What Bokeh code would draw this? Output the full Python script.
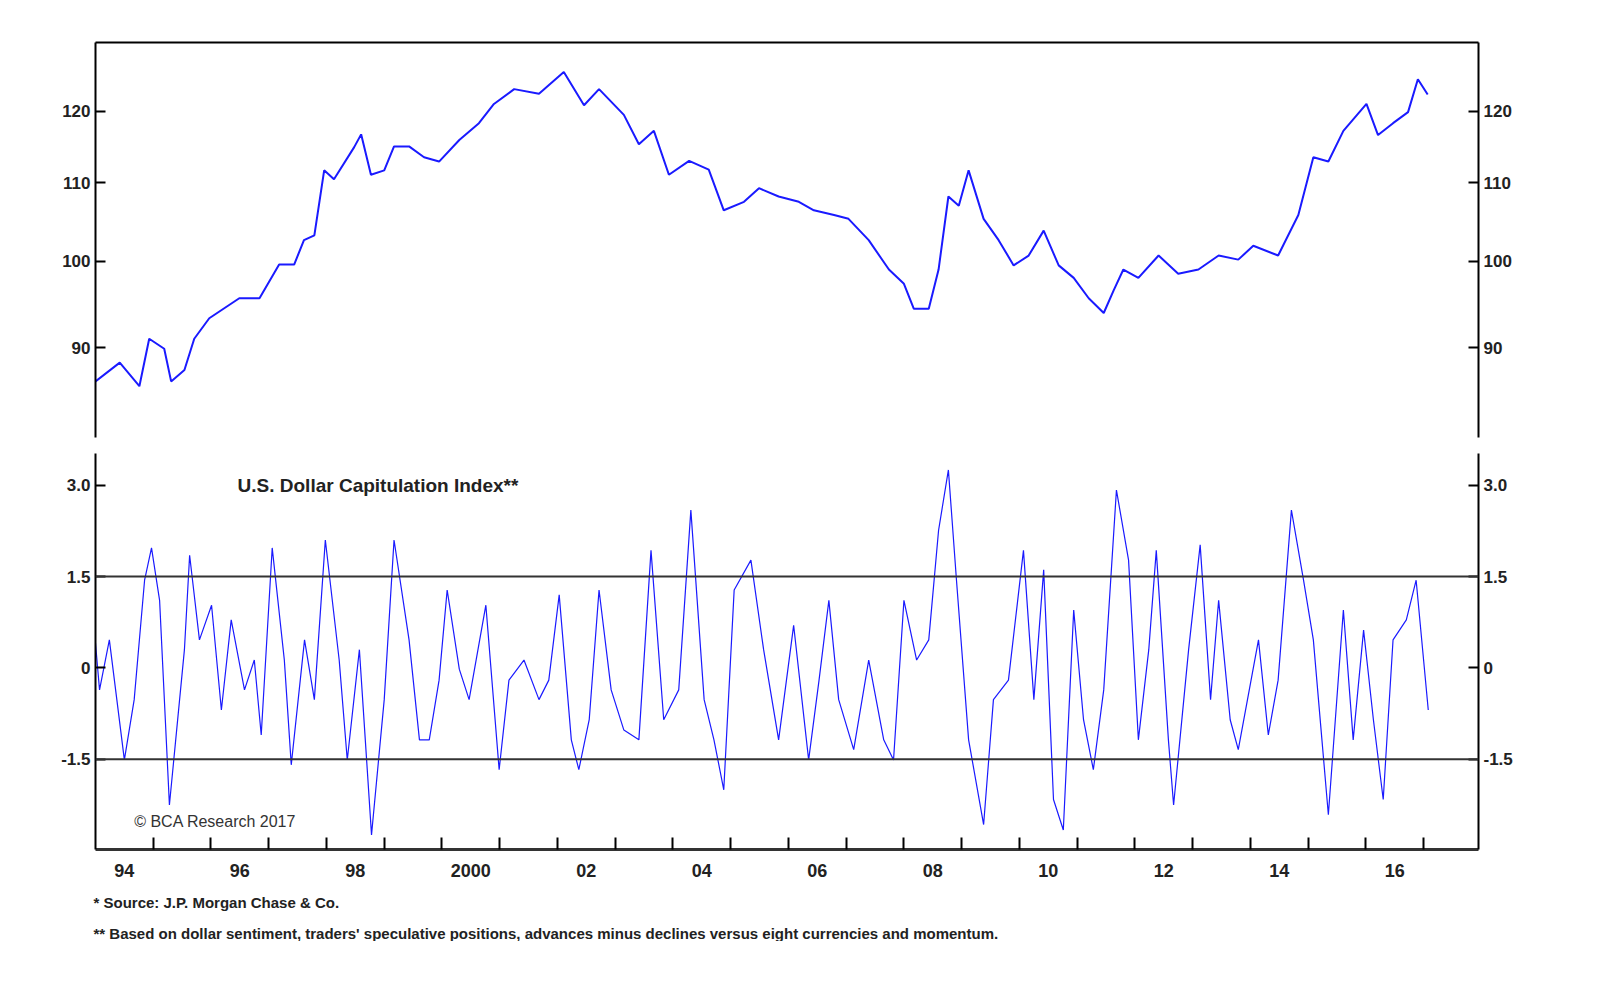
from bokeh.plotting import figure
from bokeh.models import (Range1d, LinearAxis, LogAxis, FixedTicker, Span, Label, Title)
from bokeh.layouts import column
from bokeh.embed import file_html
from bokeh.resources import INLINE

# Trade-weighted US dollar (top panel)
dollar_years = [1994.0, 1994.42, 1994.76, 1994.93, 1995.19, 1995.31, 1995.54, 1995.71, 1995.97,
                1996.49, 1996.84, 1997.18, 1997.44, 1997.61, 1997.79, 1997.96, 1998.13, 1998.48,
                1998.60, 1998.77, 1999.0, 1999.17, 1999.43, 1999.69, 1999.95, 2000.30, 2000.64,
                2000.90, 2001.25, 2001.68, 2002.11, 2002.46, 2002.72, 2003.15, 2003.41, 2003.67,
                2003.93, 2004.28, 2004.62, 2004.88, 2005.23, 2005.49, 2005.83, 2006.18, 2006.44,
                2006.79, 2007.04, 2007.39, 2007.74, 2008.0, 2008.17, 2008.43, 2008.60, 2008.77,
                2008.95, 2009.12, 2009.38, 2009.64, 2009.90, 2010.16, 2010.42, 2010.68, 2010.94,
                2011.20, 2011.46, 2011.63, 2011.80, 2012.06, 2012.41, 2012.75, 2013.10, 2013.45,
                2013.79, 2014.05, 2014.48, 2014.83, 2015.09, 2015.35, 2015.61, 2016.01, 2016.21,
                2016.47, 2016.73, 2016.90, 2017.07]
dollar_values = [86.4, 88.4, 85.9, 91.0, 89.9, 86.4, 87.6, 91.0, 93.3,
                 95.6, 95.6, 99.6, 99.6, 102.6, 103.2, 111.7, 110.5, 114.9,
                 116.7, 111.1, 111.7, 115.0, 115.0, 113.5, 112.9, 115.9, 118.3,
                 121.1, 123.3, 122.6, 125.9, 120.9, 123.3, 119.5, 115.3, 117.2,
                 111.1, 113.0, 111.8, 106.4, 107.5, 109.3, 108.2, 107.5, 106.4,
                 105.8, 105.3, 102.6, 99.0, 97.3, 94.4, 94.4, 99.0, 108.2,
                 107.0, 111.7, 105.3, 102.6, 99.5, 100.7, 103.8, 99.5, 98.0,
                 95.6, 93.9, 96.5, 99.0, 98.0, 100.7, 98.5, 99.0, 100.7,
                 100.2, 101.9, 100.7, 105.8, 113.5, 112.9, 117.2, 121.1, 116.6,
                 118.3, 119.9, 124.8, 122.5]

# U.S. Dollar Capitulation Index (bottom panel)
cap_years = [1993.98, 1994.07, 1994.24, 1994.50, 1994.67, 1994.85, 1994.97, 1995.11, 1995.28,
             1995.54, 1995.63, 1995.80, 1996.01, 1996.18, 1996.35, 1996.58, 1996.75, 1996.87,
             1997.06, 1997.27, 1997.39, 1997.62, 1997.79, 1997.98, 1998.22, 1998.36, 1998.57,
             1998.78, 1999.0, 1999.17, 1999.43, 1999.61, 1999.78, 1999.95, 2000.09, 2000.30,
             2000.47, 2000.76, 2000.99, 2001.16, 2001.42, 2001.68, 2001.85, 2002.03, 2002.24,
             2002.37, 2002.55, 2002.72, 2002.93, 2003.15, 2003.41, 2003.62, 2003.84, 2004.10,
             2004.31, 2004.54, 2004.71, 2004.88, 2005.06, 2005.35, 2005.57, 2005.83, 2006.09,
             2006.35, 2006.53, 2006.70, 2006.87, 2007.13, 2007.39, 2007.65, 2007.82, 2008.0,
             2008.22, 2008.43, 2008.60, 2008.77, 2008.91, 2009.12, 2009.38, 2009.55, 2009.81,
             2010.07, 2010.25, 2010.42, 2010.59, 2010.76, 2010.94, 2011.11, 2011.28, 2011.46,
             2011.68, 2011.89, 2012.06, 2012.24, 2012.37, 2012.58, 2012.67, 2012.93, 2013.13,
             2013.31, 2013.45, 2013.65, 2013.79, 2014.14, 2014.31, 2014.48, 2014.71, 2014.92,
             2015.09, 2015.35, 2015.61, 2015.78, 2015.96, 2016.13, 2016.30, 2016.47, 2016.70,
             2016.87, 2017.08]
cap_values = [0.62, -0.36, 0.46, -1.51, -0.52, 1.44, 1.97, 1.11, -2.25,
              0.30, 1.85, 0.46, 1.03, -0.69, 0.79, -0.36, 0.13, -1.10,
              1.97, 0.13, -1.59, 0.46, -0.52, 2.10, 0.13, -1.51, 0.30,
              -2.74, -0.52, 2.10, 0.46, -1.18, -1.18, -0.20, 1.28, -0.02,
              -0.52, 1.03, -1.67, -0.20, 0.13, -0.52, -0.20, 1.20, -1.18,
              -1.67, -0.85, 1.28, -0.36, -1.02, -1.18, 1.93, -0.85, -0.36,
              2.59, -0.52, -1.18, -2.0, 1.28, 1.77, 0.30, -1.18, 0.70,
              -1.51, -0.20, 1.11, -0.52, -1.34, 0.13, -1.18, -1.51, 1.11,
              0.13, 0.46, 2.26, 3.25, 1.44, -1.18, -2.57, -0.52, -0.20,
              1.93, -0.52, 1.61, -2.16, -2.66, 0.95, -0.85, -1.67, -0.36,
              2.92, 1.77, -1.18, 0.30, 1.93, -1.18, -2.25, 0.30, 2.02,
              -0.52, 1.11, -0.85, -1.34, 0.46, -1.10, -0.20, 2.59, 1.44,
              0.46, -2.41, 0.95, -1.18, 0.62, -0.85, -2.16, 0.46, 0.79,
              1.44, -0.69]

year_labels = ["94", "96", "98", "2000", "02", "04", "06", "08", "10", "12", "14", "16"]
label_pos = [1994.5 + 2 * i for i in range(len(year_labels))]
year_ticks = list(range(1995, 2018))

FONT = "Liberation Sans"
BLUE = "#1a1aff"
x_range = Range1d(1994.0, 2017.95)


def style_y(axis, ticks):
    axis.ticker = FixedTicker(ticks=ticks, minor_ticks=[])
    axis.major_tick_in = 10
    axis.major_tick_out = 0
    axis.axis_line_width = 2
    axis.major_tick_line_width = 2
    axis.major_label_text_font = FONT
    axis.major_label_text_font_style = "bold"
    axis.major_label_text_font_size = "17px"
    axis.major_label_text_color = "#222222"


top = figure(width=1560, height=445, x_range=x_range, y_range=Range1d(80.7, 130.5),
             y_axis_type="log", y_axis_location=None, x_axis_location=None,
             output_backend="svg", toolbar_location=None,
             min_border_left=95, min_border_right=82, min_border_top=42, min_border_bottom=8)
top.outline_line_color = None
top.grid.visible = False
for side in ["left", "right"]:
    ax = LogAxis()
    style_y(ax, [90, 100, 110, 120])
    top.add_layout(ax, side)
above = LinearAxis(ticker=FixedTicker(ticks=[]), major_label_text_font_size="0px", axis_line_width=2)
top.add_layout(above, "above")
top.line(dollar_years, dollar_values, color=BLUE, line_width=2)

bot = figure(width=1560, height=496, x_range=x_range, y_range=Range1d(-2.98, 3.52),
             y_axis_location=None, x_axis_location=None,
             output_backend="svg", toolbar_location=None,
             min_border_left=95, min_border_right=82, min_border_top=8, min_border_bottom=60)
bot.outline_line_color = None
bot.grid.visible = False
for side in ["left", "right"]:
    ax = LinearAxis()
    style_y(ax, [-1.5, 0, 1.5, 3.0])
    ax.major_label_overrides = {-1.5: "-1.5", 0: "0", 1.5: "1.5", 3.0: "3.0"}
    bot.add_layout(ax, side)
xa = LinearAxis(ticker=FixedTicker(ticks=label_pos, minor_ticks=year_ticks))
xa.major_label_overrides = {p: t for p, t in zip(label_pos, year_labels)}
xa.major_tick_in = 0
xa.major_tick_out = 0
xa.minor_tick_in = 12
xa.minor_tick_out = 0
xa.minor_tick_line_width = 2
xa.axis_line_width = 3
xa.axis_line_color = "#333333"
xa.major_label_standoff = 14
xa.major_label_text_font = FONT
xa.major_label_text_font_style = "bold"
xa.major_label_text_font_size = "18px"
xa.major_label_text_color = "#222222"
bot.add_layout(xa, "below")

for lvl in [1.5, -1.5]:
    bot.add_layout(Span(location=lvl, dimension="width", line_color="#333333", line_width=2))
bot.line(cap_years, cap_values, color=BLUE, line_width=1.2)

bot.add_layout(Label(x=1996.46, y=3.0, text="U.S. Dollar Capitulation Index**", text_font=FONT,
                     text_font_style="bold", text_font_size="19px", text_baseline="middle",
                     text_color="#222222"))
bot.add_layout(Label(x=1994.67, y=-2.52, text="© BCA Research 2017", text_font=FONT,
                     text_font_size="16px", text_baseline="middle", text_color="#333333"))

bot.add_layout(Title(text="*  Source: J.P. Morgan Chase & Co.", align="left", offset=-2, text_font=FONT,
                     text_font_style="bold", text_font_size="15px", text_color="#222222",
                     standoff=24), "below")
bot.add_layout(Title(text="** Based on dollar sentiment, traders' speculative positions, advances minus declines versus eight currencies and momentum.",
                     align="left", offset=-2, text_font=FONT, text_font_style="bold",
                     text_font_size="15px", text_color="#222222", standoff=0), "below")

p = column(top, bot, spacing=0)
open("out.html", "w").write(file_html(p, INLINE))
